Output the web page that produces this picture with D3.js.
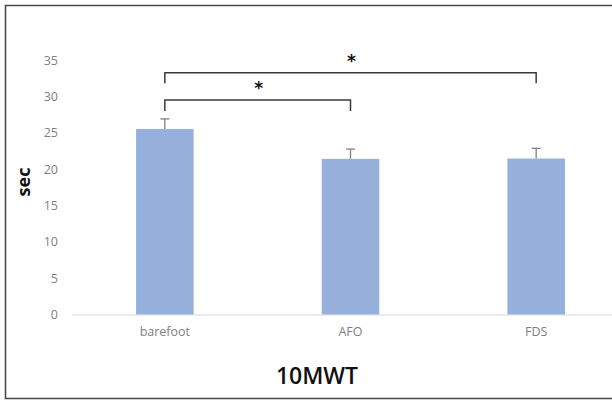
<!DOCTYPE html>
<html>
<head>
<meta charset="utf-8">
<script src="https://cdn.jsdelivr.net/npm/d3@7"></script>
<style>
  body { margin: 0; background: #fff; }
  svg { display: block; }
</style>
</head>
<body>
<svg id="chart" width="612" height="404"></svg>
<script>
// data
const categories = ["barefoot", "AFO", "FDS"];
const means = [25.5, 21.4, 21.45];
const errors = [1.4, 1.35, 1.4];
const yTicks = [0, 5, 10, 15, 20, 25, 30, 35];
// significance brackets: [from, to, height of bar, height of leg ends]
const brackets = [
    { from: "barefoot", to: "AFO", top: 29.5, foot: 28.0, label: "*" },
    { from: "barefoot", to: "FDS", top: 33.25, foot: 31.8, label: "*" }
];

const svg = d3.select("#chart");
const barColor = "#95b0da";
const tickColor = "#7f7f7f";

// outer frame (right edge runs off the picture)
svg.append("path")
    .attr("d", "M640,5.5 H5.5 V398.5 H640")
    .attr("fill", "none")
    .attr("stroke", "#4a4a4a")
    .attr("stroke-width", 1.6);

const x = d3.scaleBand().domain(categories).range([72, 629]).paddingInner(0.69).paddingOuter(0.345);
const y = d3.scaleLinear().domain([0, 35]).range([314.5, 60]);

// y axis labels
const yAxis = svg.append("g").attr("transform", "translate(58,0)")
    .call(d3.axisLeft(y).tickValues(yTicks).tickSize(0).tickPadding(0));
yAxis.select(".domain").remove();
yAxis.selectAll("text")
    .attr("fill", tickColor)
    .attr("font-family", "'Open Sans', sans-serif")
    .attr("font-size", "12.5px");

// x axis
const xAxis = svg.append("g").attr("transform", `translate(0,${y(0)})`)
    .call(d3.axisBottom(x).tickSize(0).tickPadding(13));
xAxis.select(".domain").attr("stroke", "#d9d9d9").attr("d", "M72,0.5H612");
xAxis.selectAll("text")
    .attr("fill", tickColor)
    .attr("font-family", "'Open Sans', sans-serif")
    .attr("font-size", "12.5px");

// bars
svg.append("g").selectAll("rect").data(categories).enter().append("rect")
    .attr("x", d => x(d))
    .attr("y", (d, i) => y(means[i]))
    .attr("width", x.bandwidth())
    .attr("height", (d, i) => y(0) - y(means[i]))
    .attr("fill", barColor);

// error bars (upper only)
const eb = svg.append("g").attr("stroke", "#808080").attr("stroke-width", 1.3);
categories.forEach((c, i) => {
    let cx = x(c) + x.bandwidth() / 2;
    eb.append("line").attr("x1", cx).attr("x2", cx)
        .attr("y1", y(means[i])).attr("y2", y(means[i] + errors[i]));
    eb.append("line").attr("x1", cx - 4.5).attr("x2", cx + 4.5)
        .attr("y1", y(means[i] + errors[i])).attr("y2", y(means[i] + errors[i]));
});

// significance brackets
brackets.forEach(b => {
    let x1 = x(b.from) + x.bandwidth() / 2;
    let x2 = x(b.to) + x.bandwidth() / 2;
    svg.append("path")
        .attr("d", `M${x1},${y(b.foot)} V${y(b.top)} H${x2} V${y(b.foot)}`)
        .attr("fill", "none")
        .attr("stroke", "#3a3a3a")
        .attr("stroke-width", 1.5);
    svg.append("text")
        .attr("x", (x1 + x2) / 2 + 1)
        .attr("y", y(b.top) - 6)
        .attr("text-anchor", "middle")
        .attr("font-family", "'DejaVu Sans', sans-serif")
        .attr("font-size", "17px")
        .attr("font-weight", "bold")
        .attr("fill", "#111")
        .text(b.label);
});

// y axis title
svg.append("text")
    .attr("transform", "translate(30,182) rotate(-90)")
    .attr("text-anchor", "middle")
    .attr("font-family", "'Open Sans', sans-serif")
    .attr("font-size", "18px")
    .attr("font-weight", "bold")
    .attr("fill", "#111")
    .text("sec");

// chart title
svg.append("text")
    .attr("x", 317)
    .attr("y", 384)
    .attr("text-anchor", "middle")
    .attr("font-family", "'Open Sans', sans-serif")
    .attr("font-size", "23px")
    .attr("font-weight", "600")
    .attr("fill", "#111")
    .text("10MWT");
</script>
</body>
</html>
